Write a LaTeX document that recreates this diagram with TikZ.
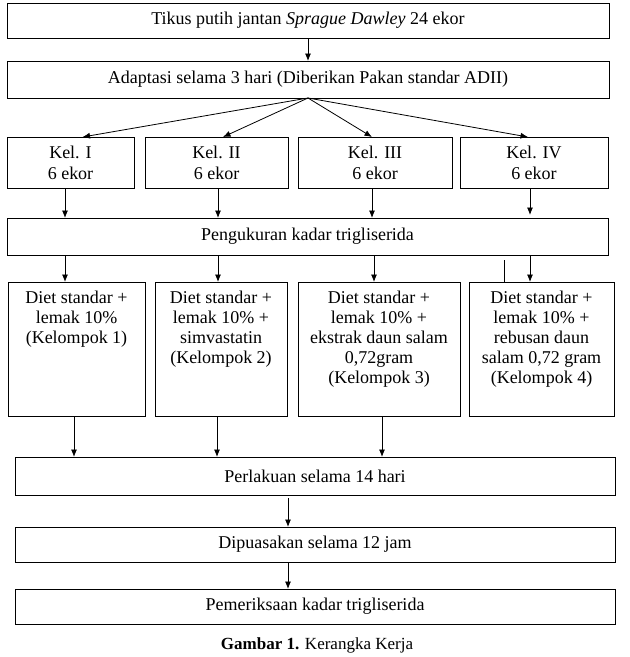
\documentclass[tikz,border=0pt]{standalone}
\usepackage{fontspec}
\setmainfont{Liberation Serif}
\usetikzlibrary{arrows.meta}
\begin{document}
\begin{tikzpicture}[x=1pt,y=-1pt,
  box/.style={draw, line width=0.8pt, inner sep=0pt, outer sep=0pt, anchor=north west, font=\fontsize{18}{21}\selectfont, align=center},
  txt/.style={inner sep=0pt, anchor=north, font=\fontsize{18}{20}\selectfont, align=center},
  arr/.style={-{Latex[length=7.5pt,width=6pt]}, line width=0.8pt},
  plain/.style={line width=0.8pt}]
\useasboundingbox (0,0) rectangle (630,657);
\node[box, minimum width=602, minimum height=35] (b1) at (7,3) {Tikus putih jantan \textit{Sprague Dawley} 24 ekor};
\node[box, minimum width=602, minimum height=37] (b2) at (7,61) {Adaptasi selama 3 hari (Diberikan Pakan standar ADII)};
\node[box, minimum width=127, minimum height=51] (k1) at (7,137) {Kel. I\\6 ekor};
\node[box, minimum width=143, minimum height=51] (k2) at (145,137) {Kel. II\\6 ekor};
\node[box, minimum width=154, minimum height=51] (k3) at (298,137) {Kel. III\\6 ekor};
\node[box, minimum width=148, minimum height=51] (k4) at (460,137) {Kel. IV\\6 ekor};
\node[box, minimum width=601, minimum height=37] (peng) at (7,218) {Pengukuran kadar trigliserida};
\node[box, minimum width=137, minimum height=134] (d1) at (8,282) {};
\node[box, minimum width=132, minimum height=134] (d2) at (155,282) {};
\node[box, minimum width=162, minimum height=134] (d3) at (298,282) {};
\node[box, minimum width=145, minimum height=134] (d4) at (469,282) {};
\node[txt] (t1) at ([yshift=-9pt]d1.north) {Diet standar +\\lemak 10\%\\(Kelompok 1)};
\node[txt] (t2) at ([yshift=-9pt]d2.north) {Diet standar +\\lemak 10\% +\\simvastatin\\(Kelompok 2)};
\node[txt] (t3) at ([yshift=-9pt]d3.north) {Diet standar +\\lemak 10\% +\\ekstrak daun salam\\0,72gram\\(Kelompok 3)};
\node[txt] (t4) at ([yshift=-9pt]d4.north) {Diet standar +\\lemak 10\% +\\rebusan daun\\salam 0,72 gram\\(Kelompok 4)};
\node[box, minimum width=600, minimum height=38] (perl) at (15,457) {Perlakuan selama 14 hari};
\node[box, minimum width=600, minimum height=35] (dip) at (15,527) {Dipuasakan selama 12 jam};
\node[box, minimum width=600, minimum height=35] (pem) at (15,589) {Pemeriksaan kadar trigliserida};
\node[inner sep=0pt, font=\fontsize{17}{20}\selectfont] (cap) at (317,645) {\textbf{Gambar 1.} Kerangka Kerja};
% arrows
\draw[arr] (b1.south) -- (b2.north);
\draw[arr] (b2.south) -- ([xshift=12pt]k1.north);
\draw[arr] (b2.south) -- ([xshift=6.5pt]k2.north);
\draw[arr] (b2.south) -- ([xshift=-3pt]k3.north);
\draw[arr] (b2.south) -- ([xshift=-6pt]k4.north);
\draw[arr] ([xshift=-5.5pt]k1.south) -- ([xshift=-5.5pt]k1.south |- peng.north);
\draw[arr] ([xshift=1.5pt]k2.south) -- ([xshift=1.5pt]k2.south |- peng.north);
\draw[arr] ([xshift=-3pt]k3.south) -- ([xshift=-3pt]k3.south |- peng.north);
\draw[arr] ([xshift=-4pt]k4.south) -- ([xshift=-4pt,yshift=3pt]k4.south |- peng.north);
\draw[arr] ([xshift=-11.5pt]d1.north |- peng.south) -- ([xshift=-11.5pt]d1.north);
\draw[arr] ([xshift=-3pt]d2.north |- peng.south) -- ([xshift=-3pt]d2.north);
\draw[arr] ([xshift=-5pt]d3.north |- peng.south) -- ([xshift=-5pt]d3.north);
\draw[arr] ([xshift=-11.5pt]d4.north |- peng.south) -- ([xshift=-11.5pt]d4.north);
\draw[plain] ([xshift=-37.5pt,yshift=22pt]d4.north) -- ([xshift=-37.5pt]d4.north);
\draw[arr] ([xshift=-2.5pt]d1.south) -- ([xshift=-2.5pt]d1.south |- perl.north);
\draw[arr] ([xshift=-4pt]d2.south) -- ([xshift=-4pt]d2.south |- perl.north);
\draw[arr] ([xshift=3pt]d3.south) -- ([xshift=3pt]d3.south |- perl.north);
\draw[arr] ([xshift=-27pt,yshift=-3pt]perl.south) -- ([xshift=-27pt]dip.north);
\draw[arr] ([xshift=-27pt]dip.south) -- ([xshift=-27pt]pem.north);
\end{tikzpicture}
\end{document}
